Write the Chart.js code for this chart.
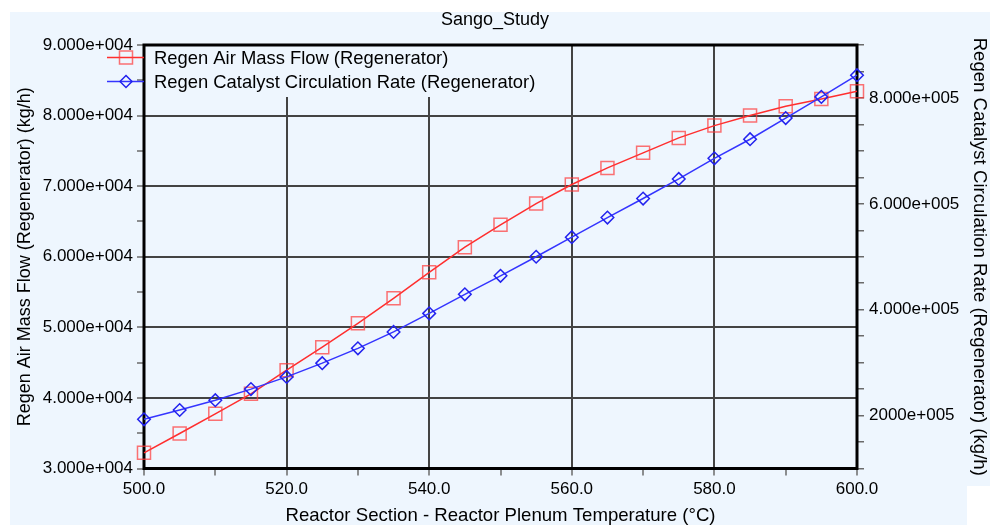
<!DOCTYPE html>
<html><head><meta charset="utf-8">
<script src="https://cdn.jsdelivr.net/npm/chart.js@4"></script>
<style>html,body{margin:0;padding:0;background:#fff}canvas{display:block}</style>
</head><body>
<canvas id="c" width="990" height="525"></canvas>
<script>
const chartTitle = 'Sango_Study';
const xAxisTitle = 'Reactor Section - Reactor Plenum Temperature (°C)';
const leftAxisTitle = 'Regen Air Mass Flow (Regenerator) (kg/h)';
const rightAxisTitle = 'Regen Catalyst Circulation Rate (Regenerator) (kg/h)';
const seriesNames = ['Regen Air Mass Flow (Regenerator)', 'Regen Catalyst Circulation Rate (Regenerator)'];

const temperatures = [500,505,510,515,520,525,530,535,540,545,550,555,560,565,570,575,580,585,590,595,600];
const airMassFlow = [32220,34960,37750,40580,43920,47180,50570,54110,57800,61350,64520,67540,70230,72590,74720,76840,78580,80000,81320,82360,83440];
const catalystCirculation = [193000,210500,229000,250000,273000,299000,327000,358000,393000,429000,464000,500000,537000,574000,610000,647000,686000,722000,762000,802000,843000];

const xTickValues = [500,520,540,560,580,600];
const xTickLabels = ['500.0','520.0','540.0','560.0','580.0','600.0'];
const leftTickValues = [30000,40000,50000,60000,70000,80000,90000];
const leftTickLabels = ['3.000e+004','4.000e+004','5.000e+004','6.000e+004','7.000e+004','8.000e+004','9.000e+004'];
const rightTickValues = [200000,400000,600000,800000];
const rightTickLabels = ['2000e+005','4.000e+005','6.000e+005','8.000e+005'];

const FONT = '"Liberation Sans", Arial, sans-serif';
const BG = '#EEF6FE';
const GRID = '#434343';
const TICKC = '#6a6a6a';
const RED = '#FF2E2E';
const RED_PT = 'rgba(255,60,60,0.72)';
const BLUE = '#3434FF';
const BLUE_PT = '#2222EE';

const bgPlugin = {
  id: 'bg',
  beforeDraw(chart) {
    const ctx = chart.ctx;
    ctx.save();
    ctx.fillStyle = '#fff';
    ctx.fillRect(0, 0, chart.width, chart.height);
    ctx.fillStyle = BG;
    ctx.fillRect(10, 12, chart.width - 10, chart.height - 12);
    ctx.fillStyle = '#fff';
    ctx.fillRect(967, 486, 23, 40);
    ctx.restore();
  }
};

const frameLegendPlugin = {
  id: 'frameLegend',
  beforeDatasetsDraw(chart) {
    const ctx = chart.ctx, a = chart.chartArea;
    ctx.save();
    ctx.fillStyle = BG;
    ctx.fillRect(a.left, a.top, 400, 52);
    ctx.strokeStyle = '#000';
    ctx.lineWidth = 3;
    ctx.strokeRect(a.left, a.top, a.right - a.left, a.bottom - a.top);
    ctx.restore();
  },
  afterDraw(chart) {
    const ctx = chart.ctx, a = chart.chartArea;
    ctx.save();
    const rows = [a.top + 12.5, a.top + 36.5];
    ctx.strokeStyle = RED; ctx.lineWidth = 1.5;
    ctx.beginPath(); ctx.moveTo(107, rows[0]); ctx.lineTo(a.left, rows[0]); ctx.stroke();
    ctx.strokeStyle = RED_PT;
    ctx.strokeRect(119.5, rows[0] - 6.5, 13, 13);
    ctx.strokeStyle = BLUE; ctx.lineWidth = 1.5;
    ctx.beginPath(); ctx.moveTo(107, rows[1]); ctx.lineTo(a.left, rows[1]); ctx.stroke();
    ctx.strokeStyle = BLUE_PT;
    ctx.beginPath();
    ctx.moveTo(126, rows[1] - 6); ctx.lineTo(132, rows[1]); ctx.lineTo(126, rows[1] + 6); ctx.lineTo(120, rows[1]); ctx.closePath();
    ctx.stroke();
    ctx.fillStyle = '#000';
    ctx.font = '18.4px ' + FONT;
    ctx.textBaseline = 'middle';
    ctx.textAlign = 'left';
    ctx.fillText(seriesNames[0], 154, rows[0] + 1);
    ctx.fillText(seriesNames[1], 154, rows[1] + 1.5);
    ctx.restore();
  }
};

const pts = (ys) => temperatures.map((t, i) => ({x: t, y: ys[i]}));

new Chart(document.getElementById('c'), {
  type: 'line',
  data: {
    datasets: [
      {
        label: seriesNames[0], data: pts(airMassFlow), yAxisID: 'y', order: 1,
        borderColor: RED, borderWidth: 1.5, pointStyle: 'rect', pointRadius: 9.2,
        pointBorderColor: RED_PT, pointBackgroundColor: 'rgba(0,0,0,0)', pointBorderWidth: 1.5,
        tension: 0, clip: false
      },
      {
        label: seriesNames[1], data: pts(catalystCirculation), yAxisID: 'y1', order: 0,
        borderColor: BLUE, borderWidth: 1.5, pointStyle: 'rectRot', pointRadius: 6.3,
        pointBorderColor: BLUE_PT, pointBackgroundColor: 'rgba(0,0,0,0)', pointBorderWidth: 1.5,
        tension: 0, clip: false
      }
    ]
  },
  options: {
    responsive: false,
    animation: false,
    devicePixelRatio: 1,
    layout: {padding: 0},
    plugins: {
      legend: {display: false},
      tooltip: {enabled: false},
      title: {
        display: true, text: chartTitle, color: '#000',
        font: {family: FONT, size: 18, weight: 'normal', lineHeight: 1.2},
        padding: {top: 9.5, bottom: 13.9}
      }
    },
    scales: {
      x: {
        type: 'linear', min: 500, max: 600,
        afterFit: s => { s.height = 56.5; },
        ticks: {
          stepSize: 10, autoSkip: false, maxRotation: 0, padding: 4, color: '#000',
          font: {family: FONT, size: 17},
          callback: v => { const i = xTickValues.indexOf(v); return i >= 0 ? xTickLabels[i] : ''; }
        },
        grid: {
          color: c => (c.tick && xTickValues.includes(c.tick.value) && c.tick.value !== 500 && c.tick.value !== 600) ? GRID : 'rgba(0,0,0,0)',
          lineWidth: 2, tickLength: 7, tickColor: TICKC, tickWidth: 1.5
        },
        border: {display: false},
        title: {
          display: true, text: xAxisTitle, color: '#000',
          font: {family: FONT, size: 18.6, lineHeight: 1}, padding: {top: 0, bottom: 0}
        }
      },
      y: {
        type: 'linear', position: 'left', min: 30000, max: 90000,
        afterFit: s => { s.width = 144; },
        ticks: {
          stepSize: 5000, autoSkip: false, padding: 4, color: '#000',
          font: {family: FONT, size: 17},
          callback: v => { const i = leftTickValues.indexOf(v); return i >= 0 ? leftTickLabels[i] : ''; }
        },
        grid: {
          color: c => (c.tick && leftTickValues.includes(c.tick.value) && c.tick.value !== 30000 && c.tick.value !== 90000) ? GRID : 'rgba(0,0,0,0)',
          lineWidth: 2, tickLength: 7, tickColor: TICKC, tickWidth: 1.5
        },
        border: {display: false},
        title: {
          display: true, text: leftAxisTitle, color: '#000',
          font: {family: FONT, size: 18, lineHeight: 1}, padding: {top: 16, bottom: 0}
        }
      },
      y1: {
        type: 'linear', position: 'right', min: 100000, max: 900000,
        afterFit: s => { s.width = 133; },
        ticks: {
          stepSize: 50000, autoSkip: false, padding: 5, color: '#000',
          font: {family: FONT, size: 17},
          callback: v => { const i = rightTickValues.indexOf(v); return i >= 0 ? rightTickLabels[i] : ''; }
        },
        grid: {
          drawOnChartArea: false, tickLength: 7, tickColor: TICKC, tickWidth: 1.5, lineWidth: 1.5
        },
        border: {display: false},
        title: {
          display: true, text: rightAxisTitle, color: '#000',
          font: {family: FONT, size: 18.6, lineHeight: 1}, padding: {top: 1.5, bottom: 0}
        }
      }
    }
  },
  plugins: [bgPlugin, frameLegendPlugin]
});
</script>
</body></html>
